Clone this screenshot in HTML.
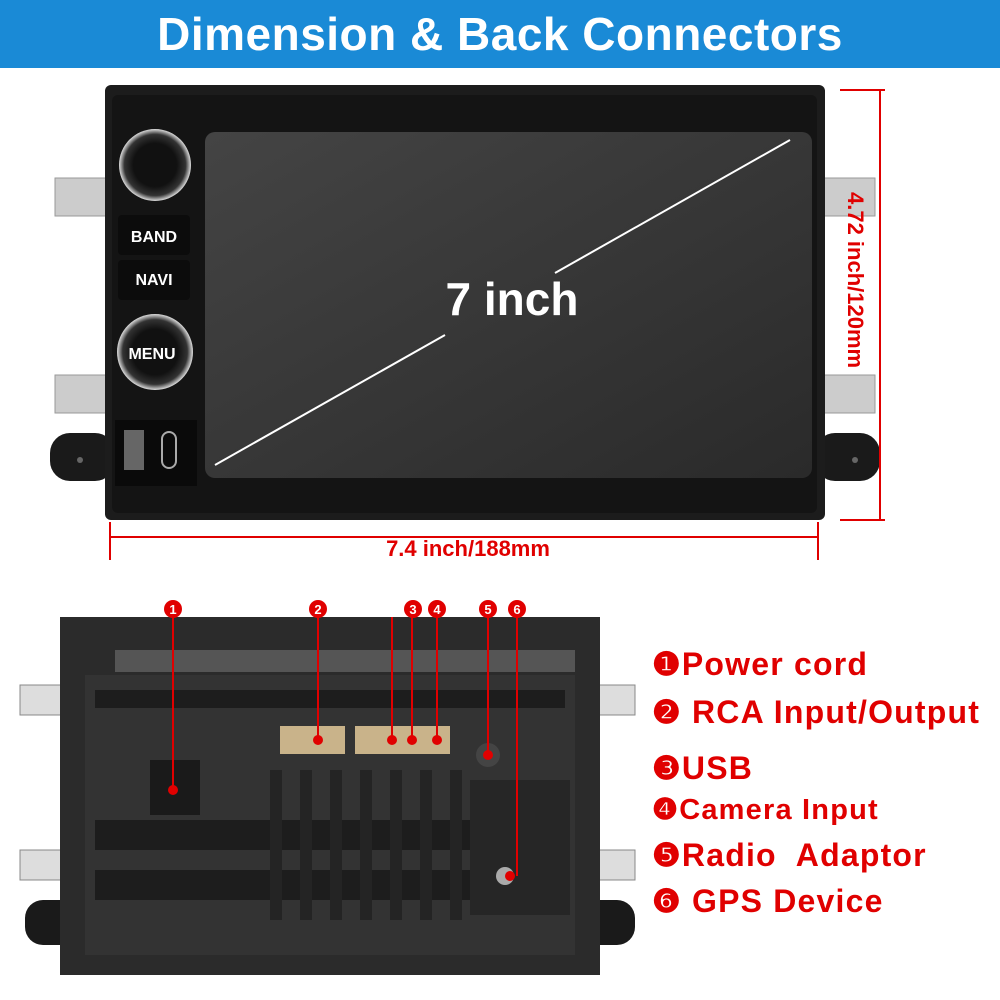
<!DOCTYPE html>
<html><head><meta charset="utf-8"><style>
html,body{margin:0;padding:0;background:#fff;}
body{width:1000px;height:1000px;overflow:hidden;position:relative;font-family:"Liberation Sans",sans-serif;}
.hdr{position:absolute;left:0;top:0;width:1000px;height:68px;background:#1a8ad6;color:#fff;font-weight:bold;font-size:46px;text-align:center;line-height:68px;letter-spacing:0.5px;}
.leg{position:absolute;left:652px;color:#e00000;font-weight:bold;font-size:32px;letter-spacing:1.2px;white-space:nowrap;}
</style></head><body>
<div class="hdr">Dimension &amp; Back Connectors</div>
<svg width="1000" height="1000" style="position:absolute;left:0;top:0">
<defs>
<linearGradient id="scr" x1="0" y1="0" x2="1" y2="1"><stop offset="0" stop-color="#444"/><stop offset="1" stop-color="#2a2a2a"/></linearGradient>
<radialGradient id="kn"><stop offset="0.6" stop-color="#111"/><stop offset="0.85" stop-color="#333"/><stop offset="1" stop-color="#ddd"/></radialGradient>
</defs>
<rect x="55" y="178" width="55" height="38" fill="#ccc" stroke="#999"/>
<rect x="55" y="375" width="55" height="38" fill="#ccc" stroke="#999"/>
<rect x="815" y="178" width="60" height="38" fill="#ccc" stroke="#999"/>
<rect x="815" y="375" width="60" height="38" fill="#ccc" stroke="#999"/>
<rect x="50" y="433" width="65" height="48" rx="20" fill="#1a1a1a"/>
<rect x="815" y="433" width="65" height="48" rx="20" fill="#1a1a1a"/>
<circle cx="80" cy="460" r="3" fill="#666"/><circle cx="855" cy="460" r="3" fill="#666"/>
<rect x="105" y="85" width="720" height="435" rx="6" fill="#1c1c1c"/>
<rect x="112" y="95" width="705" height="418" rx="6" fill="#141414"/>
<rect x="205" y="132" width="607" height="346" rx="10" fill="url(#scr)"/>
<line x1="215" y1="465" x2="445" y2="335" stroke="#fff" stroke-width="2"/>
<line x1="555" y1="273" x2="790" y2="140" stroke="#fff" stroke-width="2"/>
<text x="512" y="315" fill="#fff" font-size="46" font-weight="bold" text-anchor="middle">7 inch</text>
<circle cx="155" cy="165" r="36" fill="url(#kn)"/>
<rect x="118" y="215" width="72" height="40" rx="4" fill="#0c0c0c"/>
<text x="154" y="242" fill="#fff" font-size="16" font-weight="bold" text-anchor="middle">BAND</text>
<rect x="118" y="260" width="72" height="40" rx="4" fill="#0c0c0c"/>
<text x="154" y="285" fill="#fff" font-size="16" font-weight="bold" text-anchor="middle">NAVI</text>
<circle cx="155" cy="352" r="38" fill="url(#kn)"/>
<text x="152" y="359" fill="#fff" font-size="16" font-weight="bold" text-anchor="middle">MENU</text>
<rect x="115" y="420" width="82" height="66" fill="#0a0a0a"/>
<rect x="124" y="430" width="20" height="40" fill="#666"/>
<rect x="162" y="432" width="14" height="36" rx="7" fill="none" stroke="#aaa" stroke-width="2"/>
<g stroke="#e00000" stroke-width="2">
<line x1="840" y1="90" x2="885" y2="90"/><line x1="840" y1="520" x2="885" y2="520"/>
<line x1="880" y1="90" x2="880" y2="520"/>
<line x1="110" y1="522" x2="110" y2="560"/><line x1="818" y1="522" x2="818" y2="560"/>
<line x1="110" y1="537" x2="818" y2="537"/>
</g>
<text x="0" y="0" fill="#e00000" font-size="22" font-weight="bold" transform="translate(848,192) rotate(90)">4.72 inch/120mm</text>
<text x="468" y="556" fill="#e00000" font-size="22" font-weight="bold" text-anchor="middle">7.4 inch/188mm</text>
<rect x="20" y="685" width="50" height="30" fill="#ddd" stroke="#888"/>
<rect x="20" y="850" width="50" height="30" fill="#ddd" stroke="#888"/>
<rect x="590" y="685" width="45" height="30" fill="#ddd" stroke="#888"/>
<rect x="590" y="850" width="45" height="30" fill="#ddd" stroke="#888"/>
<rect x="25" y="900" width="60" height="45" rx="18" fill="#1a1a1a"/>
<rect x="575" y="900" width="60" height="45" rx="18" fill="#1a1a1a"/>
<rect x="60" y="617" width="540" height="358" fill="#2b2b2b"/>
<rect x="85" y="675" width="490" height="280" fill="#333"/>
<g fill="#1d1d1d">
<rect x="95" y="690" width="470" height="18"/>
<rect x="95" y="820" width="470" height="30"/>
<rect x="95" y="870" width="470" height="30"/>
</g>
<g fill="#242424">
<rect x="270" y="770" width="12" height="150"/><rect x="300" y="770" width="12" height="150"/><rect x="330" y="770" width="12" height="150"/><rect x="360" y="770" width="12" height="150"/><rect x="390" y="770" width="12" height="150"/><rect x="420" y="770" width="12" height="150"/><rect x="450" y="770" width="12" height="150"/>
</g>
<rect x="115" y="650" width="460" height="22" fill="#555"/>
<rect x="280" y="726" width="65" height="28" fill="#c9b38a"/>
<rect x="355" y="726" width="95" height="28" fill="#c9b38a"/>
<rect x="150" y="760" width="50" height="55" fill="#1a1a1a"/>
<circle cx="488" cy="755" r="12" fill="#444"/>
<rect x="470" y="780" width="100" height="135" fill="#262626"/>
<circle cx="505" cy="876" r="9" fill="#aaa"/>
<g stroke="#e00000" stroke-width="2" fill="none">
<line x1="173" y1="617" x2="173" y2="790"/>
<line x1="318" y1="617" x2="318" y2="740"/>
<line x1="392" y1="617" x2="392" y2="740"/>
<line x1="412" y1="617" x2="412" y2="740"/>
<line x1="437" y1="617" x2="437" y2="740"/>
<line x1="488" y1="617" x2="488" y2="755"/>
<line x1="517" y1="617" x2="517" y2="876"/>
</g>
<g fill="#e00000">
<circle cx="173" cy="790" r="5"/><circle cx="318" cy="740" r="5"/><circle cx="392" cy="740" r="5"/><circle cx="412" cy="740" r="5"/><circle cx="437" cy="740" r="5"/><circle cx="488" cy="755" r="5"/><circle cx="510" cy="876" r="5"/>
<circle cx="173" cy="609" r="9"/><circle cx="318" cy="609" r="9"/><circle cx="413" cy="609" r="9"/><circle cx="437" cy="609" r="9"/><circle cx="488" cy="609" r="9"/><circle cx="517" cy="609" r="9"/>
</g>
<g fill="#fff" font-size="13" font-weight="bold" text-anchor="middle">
<text x="173" y="614">1</text><text x="318" y="614">2</text><text x="413" y="614">3</text><text x="437" y="614">4</text><text x="488" y="614">5</text><text x="517" y="614">6</text>
</g>
</svg>
<div class="leg" style="top:645px">❶Power cord</div>
<div class="leg" style="top:693px">❷ RCA Input/Output</div>
<div class="leg" style="top:749px">❸USB</div>
<div class="leg" style="top:792px;font-size:29px">❹Camera Input</div>
<div class="leg" style="top:836px">❺Radio&nbsp; Adaptor</div>
<div class="leg" style="top:882px">❻ GPS Device</div>
</body></html>
